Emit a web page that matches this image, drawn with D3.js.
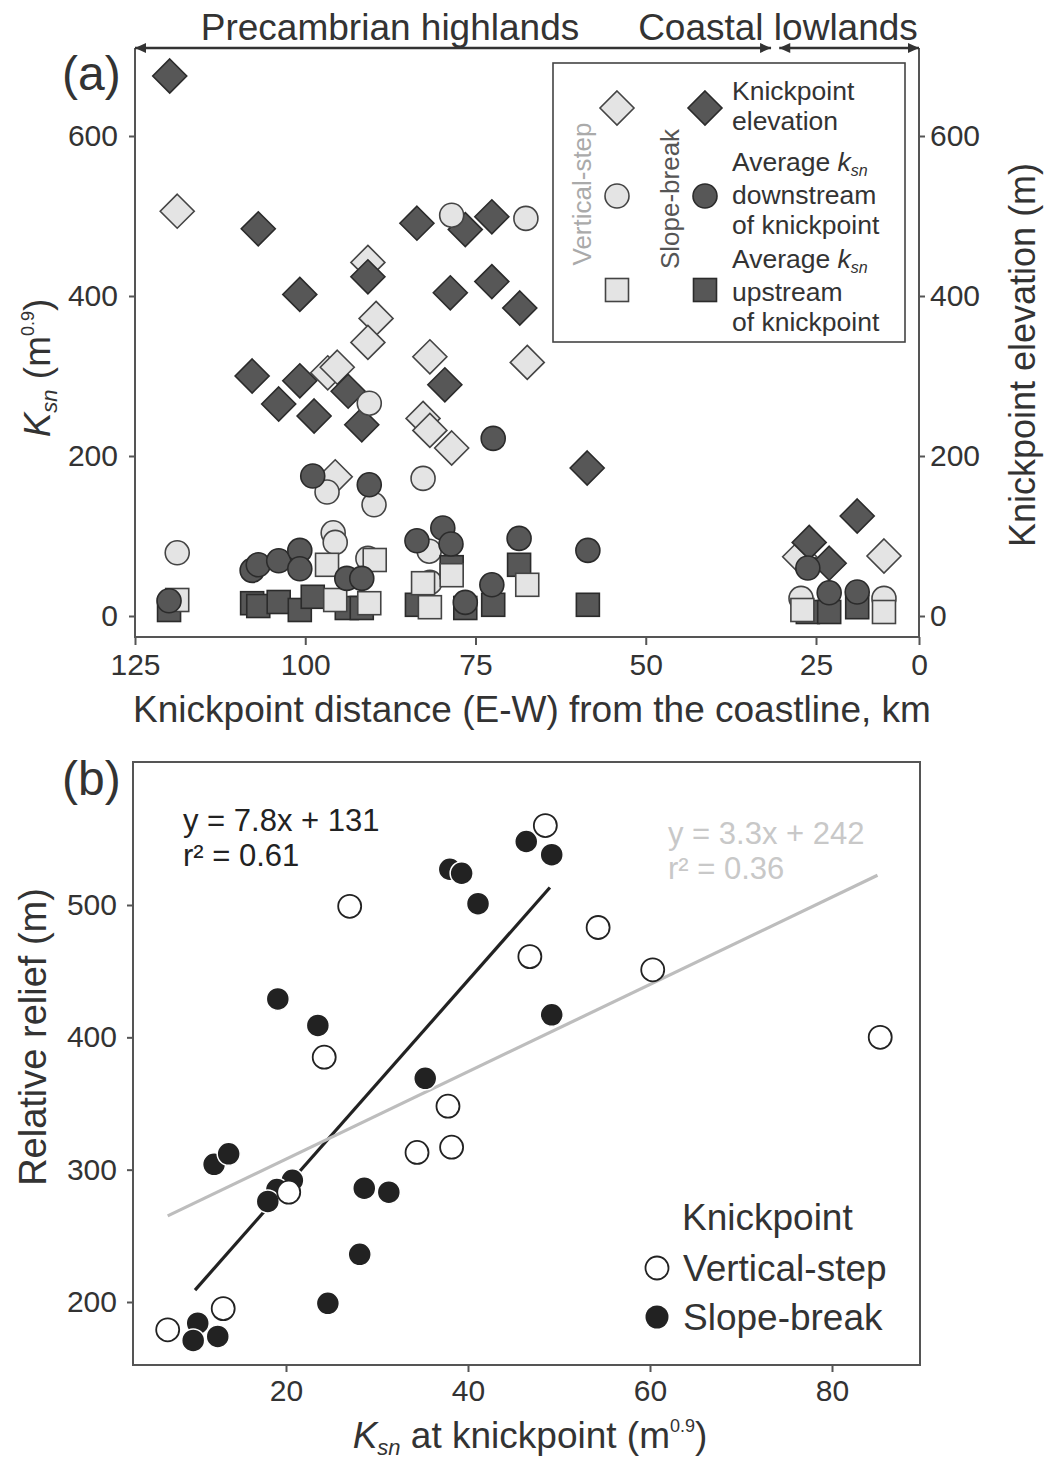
<!DOCTYPE html>
<html><head><meta charset="utf-8">
<script src="https://cdn.jsdelivr.net/npm/d3@7"></script>
<style>
body{margin:0;background:#fff}
svg{display:block}
text{font-family:"Liberation Sans",Arial,Helvetica,sans-serif;fill:#333}
</style>
</head><body>
<svg id="c" width="1046" height="1459"></svg>
<script>
// ---------------- DATA: panel (a) ----------------
const aXTicks = [125, 100, 75, 50, 25, 0];
const aYTicks = [0, 200, 400, 600];
const regions = [
  {label: "Precambrian highlands", from: 125, to: 31.6},
  {label: "Coastal lowlands", from: 30.4, to: 0}
];
// [distance from coastline (km), value]
const vsElevation = [[118.8,506],[90.8,442],[89.6,372],[90.8,342],[96.7,304],[95.3,311],[95.6,174],[81.7,324],[67.4,317],[82.7,247],[81.7,232],[78.5,210],[27.4,74],[8.5,75]];
const sbElevation = [[119.9,675],[106.9,484],[100.8,402],[107.8,300],[103.9,265],[100.8,294],[98.7,250],[93.7,281],[91.7,239],[90.8,424],[83.6,491],[76.5,483],[72.6,499],[78.7,404],[72.6,418],[68.5,385],[79.5,289],[58.6,185],[26.0,92],[21.8,66],[15.0,125]];
const vsDownstream = [[118.8,79],[78.5,501],[67.6,497],[90.6,266],[96.8,155],[89.9,139],[82.7,172],[95.9,104],[95.6,92],[90.8,72],[81.8,81],[81.7,42],[27.2,22],[8.5,22]];
const sbDownstream = [[120,19],[107.8,57],[106.9,64],[103.9,69],[100.8,82],[100.8,59],[98.9,175],[90.6,164],[93.9,47],[91.7,47],[83.6,94],[79.8,110],[78.6,90],[72.4,222],[68.6,97],[58.5,82],[72.6,39],[76.5,17],[26.2,60],[21.8,29],[15,30]];
const vsUpstream = [[118.8,20],[96.8,64],[89.8,70],[95.6,20],[90.6,16],[82.7,41],[81.7,11],[78.5,51],[67.4,39],[27,7.5],[8.5,5]];
const sbUpstream = [[120,7.5],[107.8,16],[106.9,12.5],[103.9,17.5],[100.8,7.5],[98.9,24],[93.9,10],[91.7,10],[83.6,14],[78.5,61],[76.5,10],[72.4,14],[68.6,64],[58.5,14],[26.2,5],[21.8,5],[15,11]];

// ---------------- DATA: panel (b) ----------------
const bXTicks = [20, 40, 60, 80];
const bYTicks = [200, 300, 400, 500];
// [Ksn at knickpoint, relative relief (m)]
const slopeBreak = [[19.1,429],[23.5,409],[38.0,527],[39.3,524],[46.4,548],[49.2,538],[41.1,501],[49.2,417],[35.3,369],[12.1,304],[13.7,312],[20.7,292],[19.0,285],[18.0,276],[28.6,286],[31.3,283],[28.1,236],[24.6,199],[10.3,184],[9.8,171],[12.5,174]];
const verticalStep = [[48.5,560],[27.0,499],[54.3,483],[46.8,461],[60.3,451],[85.3,400],[24.2,385],[34.4,313],[37.8,348],[38.2,317],[20.3,283],[13.1,195],[7.0,179]];
const fits = [
  {name: "Slope-break", slope: 7.8, intercept: 131, r2: "0.61", xmin: 10, xmax: 49, color: "#222"},
  {name: "Vertical-step", slope: 3.3, intercept: 242, r2: "0.36", xmin: 7, xmax: 85, color: "#bdbdbd"}
];

// ---------------- DRAW ----------------
const svg = d3.select("#c");
const axisColor = "#555";
const darkFill = "#575757", darkStroke = "#2b2b2b";
const lightFill = "#e4e4e4", lightStroke = "#444";

// ===== Panel (a) =====
const A = {left: 135, right: 919, top: 48, bottom: 637};
const xA = d3.scaleLinear().domain([125, 25, 0]).range([135, 816, 919]);
const yA = d3.scaleLinear().domain([0, 600]).range([616, 136]);
const gA = svg.append("g");

// frame (left, right, bottom); top is the region arrow line
gA.append("path")
  .attr("d", `M${A.left},${A.top}V${A.bottom}H${A.right}V${A.top}`)
  .attr("fill", "none").attr("stroke", axisColor).attr("stroke-width", 2);

// region arrows
regions.forEach(r => {
  const x0 = xA(r.from), x1 = xA(r.to);
  gA.append("line").attr("x1", x0).attr("x2", x1).attr("y1", A.top).attr("y2", A.top)
    .attr("stroke", "#333").attr("stroke-width", 2.5);
  gA.append("path").attr("d", `M${x0},${A.top}L${x0+11},${A.top-5}L${x0+11},${A.top+5}Z`).attr("fill", "#333");
  gA.append("path").attr("d", `M${x1},${A.top}L${x1-11},${A.top-5}L${x1-11},${A.top+5}Z`).attr("fill", "#333");
});
gA.append("text").attr("x", 390).attr("y", 40).attr("text-anchor", "middle")
  .style("font-size", "37px").text(regions[0].label);
gA.append("text").attr("x", 778).attr("y", 40).attr("text-anchor", "middle")
  .style("font-size", "37px").text(regions[1].label);

// axes
function styleAxis(g, fs) {
  g.select(".domain").remove();
  g.selectAll(".tick line").attr("stroke", axisColor).attr("stroke-width", 2);
  g.selectAll(".tick text").style("font-size", fs + "px").attr("fill", "#333")
    .style("font-family", '"Liberation Sans",Arial,sans-serif');
}
gA.append("g").attr("transform", `translate(0,${A.bottom})`)
  .call(d3.axisBottom(xA).tickValues(aXTicks).tickSize(8).tickPadding(9).tickFormat(d3.format("d")))
  .call(g => styleAxis(g, 30));
gA.append("g").attr("transform", `translate(${A.left},0)`)
  .call(d3.axisLeft(yA).tickValues(aYTicks).tickSize(6).tickPadding(11))
  .call(g => styleAxis(g, 30));
gA.append("g").attr("transform", `translate(${A.right},0)`)
  .call(d3.axisRight(yA).tickValues(aYTicks).tickSize(6).tickPadding(5))
  .call(g => styleAxis(g, 30));

// axis titles
gA.append("text").attr("x", 532).attr("y", 722).attr("text-anchor", "middle")
  .style("font-size", "37px").text("Knickpoint distance (E-W) from the coastline, km");
const ylA = gA.append("text").attr("transform", "translate(50,368) rotate(-90)").attr("text-anchor", "middle").style("font-size", "37px");
ylA.append("tspan").style("font-style", "italic").text("K");
ylA.append("tspan").style("font-style", "italic").style("font-size", "22px").attr("dy", 7).text("sn");
ylA.append("tspan").attr("dy", -7).text(" (m");
ylA.append("tspan").style("font-size", "18px").attr("dy", -16).text("0.9");
ylA.append("tspan").attr("dy", 16).text(")");
gA.append("text").attr("transform", "translate(1035,355) rotate(-90)").attr("text-anchor", "middle")
  .style("font-size", "36px").text("Knickpoint elevation (m)");
gA.append("text").attr("x", 62).attr("y", 90).style("font-size", "48px").text("(a)");

// markers
const dHalf = 17, sq = 23, rA = 12;
function diamonds(data, fill, stroke) {
  gA.append("g").selectAll("path").data(data).join("path")
    .attr("d", d => { const x = xA(d[0]), y = yA(d[1]); return `M${x},${y-dHalf}L${x+dHalf},${y}L${x},${y+dHalf}L${x-dHalf},${y}Z`; })
    .attr("fill", fill).attr("stroke", stroke).attr("stroke-width", 1.6);
}
function squares(data, fill, stroke) {
  gA.append("g").selectAll("rect").data(data).join("rect")
    .attr("x", d => xA(d[0]) - sq/2).attr("y", d => yA(d[1]) - sq/2)
    .attr("width", sq).attr("height", sq)
    .attr("fill", fill).attr("stroke", stroke).attr("stroke-width", 1.6);
}
function circles(data, fill, stroke) {
  gA.append("g").selectAll("circle").data(data).join("circle")
    .attr("cx", d => xA(d[0])).attr("cy", d => yA(d[1])).attr("r", rA)
    .attr("fill", fill).attr("stroke", stroke).attr("stroke-width", 1.6);
}
diamonds(vsElevation, lightFill, lightStroke);
diamonds(sbElevation, darkFill, darkStroke);
circles(vsDownstream, lightFill, lightStroke);
squares(sbUpstream, darkFill, darkStroke);
squares(vsUpstream, lightFill, lightStroke);
circles(sbDownstream, darkFill, darkStroke);

// legend (a)
const L = gA.append("g");
L.append("rect").attr("x", 553).attr("y", 63).attr("width", 352).attr("height", 279)
  .attr("fill", "#fff").attr("stroke", "#444").attr("stroke-width", 1.6);
function legDiamond(x, y, f, s) {
  L.append("path").attr("d", `M${x},${y-dHalf}L${x+dHalf},${y}L${x},${y+dHalf}L${x-dHalf},${y}Z`)
    .attr("fill", f).attr("stroke", s).attr("stroke-width", 1.6);
}
legDiamond(617, 108, lightFill, lightStroke);
legDiamond(705, 108, darkFill, darkStroke);
L.append("circle").attr("cx", 617).attr("cy", 196).attr("r", rA).attr("fill", lightFill).attr("stroke", lightStroke).attr("stroke-width", 1.6);
L.append("circle").attr("cx", 705).attr("cy", 196).attr("r", rA).attr("fill", darkFill).attr("stroke", darkStroke).attr("stroke-width", 1.6);
L.append("rect").attr("x", 617 - sq/2).attr("y", 290 - sq/2).attr("width", sq).attr("height", sq).attr("fill", lightFill).attr("stroke", lightStroke).attr("stroke-width", 1.6);
L.append("rect").attr("x", 705 - sq/2).attr("y", 290 - sq/2).attr("width", sq).attr("height", sq).attr("fill", darkFill).attr("stroke", darkStroke).attr("stroke-width", 1.6);
L.append("text").attr("transform", "translate(591,194) rotate(-90)").attr("text-anchor", "middle")
  .style("font-size", "26px").style("fill", "#aaa").text("Vertical-step");
L.append("text").attr("transform", "translate(679,199) rotate(-90)").attr("text-anchor", "middle")
  .style("font-size", "26px").style("fill", "#555").text("Slope-break");
const legLines = [
  {y: 100, parts: [["Knickpoint"]]},
  {y: 130, parts: [["elevation"]]},
  {y: 171, parts: [["Average "], ["k", "i"], ["sn", "sub"]]},
  {y: 204, parts: [["downstream"]]},
  {y: 234, parts: [["of knickpoint"]]},
  {y: 268, parts: [["Average "], ["k", "i"], ["sn", "sub"]]},
  {y: 301, parts: [["upstream"]]},
  {y: 331, parts: [["of knickpoint"]]}
];
legLines.forEach(l => {
  const t = L.append("text").attr("x", 732).attr("y", l.y).style("font-size", "26.5px");
  l.parts.forEach(p => {
    const ts = t.append("tspan").text(p[0]);
    if (p[1] === "i") ts.style("font-style", "italic");
    if (p[1] === "sub") ts.style("font-style", "italic").style("font-size", "16px").attr("dy", 5);
  });
});

// ===== Panel (b) =====
const B = {left: 133, right: 920, top: 762, bottom: 1365};
const xB = d3.scaleLinear().domain([0, 80]).range([104, 832]);
const yB = d3.scaleLinear().domain([200, 500]).range([1302, 905]);
const gB = svg.append("g");
gB.append("rect").attr("x", B.left).attr("y", B.top).attr("width", B.right - B.left).attr("height", B.bottom - B.top)
  .attr("fill", "none").attr("stroke", axisColor).attr("stroke-width", 2);
gB.append("g").attr("transform", `translate(0,${B.bottom})`)
  .call(d3.axisBottom(xB).tickValues(bXTicks).tickSize(7).tickPadding(8))
  .call(g => styleAxis(g, 30));
gB.append("g").attr("transform", `translate(${B.left},0)`)
  .call(d3.axisLeft(yB).tickValues(bYTicks).tickSize(6).tickPadding(10))
  .call(g => styleAxis(g, 30));

// fit lines
fits.forEach(f => {
  gB.append("line")
    .attr("x1", xB(f.xmin)).attr("y1", yB(f.slope * f.xmin + f.intercept))
    .attr("x2", xB(f.xmax)).attr("y2", yB(f.slope * f.xmax + f.intercept))
    .attr("stroke", f.color).attr("stroke-width", 3.2);
});
// points
const rB = 11.5;
gB.append("g").selectAll("circle").data(slopeBreak).join("circle")
  .attr("cx", d => xB(d[0])).attr("cy", d => yB(d[1])).attr("r", rB)
  .attr("fill", "#222").attr("stroke", "#fff").attr("stroke-width", 1.5);
gB.append("g").selectAll("circle").data(verticalStep).join("circle")
  .attr("cx", d => xB(d[0])).attr("cy", d => yB(d[1])).attr("r", rB)
  .attr("fill", "#fff").attr("stroke", "#222").attr("stroke-width", 1.8);

// equations
const eqPos = [{x: 183, y: 831, fill: "#222"}, {x: 668, y: 844, fill: "#c8c8c8"}];
fits.forEach((f, i) => {
  const p = eqPos[i];
  gB.append("text").attr("x", p.x).attr("y", p.y).style("font-size", "31px").style("fill", p.fill)
    .text(`y = ${f.slope}x + ${f.intercept}`);
  gB.append("text").attr("x", p.x).attr("y", p.y + 35).style("font-size", "31px").style("fill", p.fill)
    .text(`r² = ${f.r2}`);
});

// legend (b)
gB.append("text").attr("x", 682).attr("y", 1230).style("font-size", "37px").text("Knickpoint");
gB.append("circle").attr("cx", 657).attr("cy", 1268).attr("r", rB).attr("fill", "#fff").attr("stroke", "#222").attr("stroke-width", 1.8);
gB.append("text").attr("x", 683).attr("y", 1281).style("font-size", "37px").text("Vertical-step");
gB.append("circle").attr("cx", 657).attr("cy", 1317).attr("r", rB).attr("fill", "#222");
gB.append("text").attr("x", 683).attr("y", 1330).style("font-size", "37px").text("Slope-break");

// titles
gB.append("text").attr("x", 62).attr("y", 795).style("font-size", "48px").text("(b)");
gB.append("text").attr("transform", "translate(46,1037) rotate(-90)").attr("text-anchor", "middle")
  .style("font-size", "38px").text("Relative relief (m)");
const xlB = gB.append("text").attr("x", 530).attr("y", 1448).attr("text-anchor", "middle").style("font-size", "37px");
xlB.append("tspan").style("font-style", "italic").text("K");
xlB.append("tspan").style("font-style", "italic").style("font-size", "22px").attr("dy", 7).text("sn");
xlB.append("tspan").attr("dy", -7).text(" at knickpoint (m");
xlB.append("tspan").style("font-size", "18px").attr("dy", -16).text("0.9");
xlB.append("tspan").attr("dy", 16).text(")");
</script>
</body></html>
